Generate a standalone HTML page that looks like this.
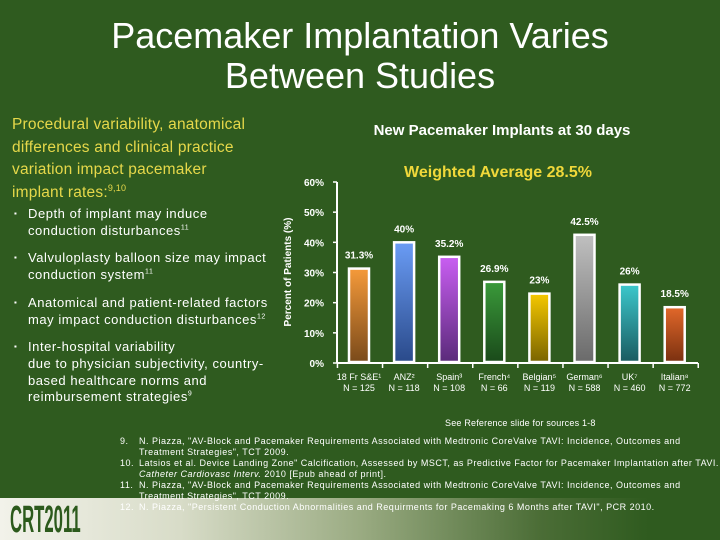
<!DOCTYPE html>
<html><head><meta charset="utf-8"><style>
body{margin:0}
#slide{position:relative;width:720px;height:540px;background:#2f5b1f;overflow:hidden;font-family:"Liberation Sans",sans-serif}
.t{position:absolute}
#title{left:0;width:720px;top:16px;text-align:center;color:#fff;font-size:36px;line-height:40px}
#intro{left:12px;top:114px;color:#e6d84a;font-size:15.5px;line-height:22.5px;width:270px;white-space:nowrap;letter-spacing:0.2px}
#intro sup{font-size:9px;line-height:0}
ul{position:absolute;left:12px;top:206px;margin:0;padding:0;list-style:none;color:#fff;font-size:13px;line-height:16.7px;width:270px;letter-spacing:0.55px;white-space:nowrap}
li{position:relative;padding-left:16px;margin-bottom:11px}
li:before{content:"▪";position:absolute;left:2px;font-size:8px}
li sup{font-size:7px;line-height:0}
#band{position:absolute;left:0;top:498px;width:720px;height:42px;background:linear-gradient(90deg,#f2f2ea 0%,#d8dcc8 25%,#9aab82 50%,#4b6d36 75%,#2f5b1f 90%)}
#crt{left:10px;top:499px;color:#2c5a1c;font-size:38px;font-weight:bold;transform:scaleX(0.44);transform-origin:left;letter-spacing:0px}
#refs{left:120px;top:436px;color:#fff;font-size:9px;line-height:11px;width:600px;letter-spacing:0.5px;white-space:nowrap}
.r{position:relative;padding-left:19px}
.r span{position:absolute;left:0}
</style></head><body>
<div id="slide">
<div class="t" id="title">Pacemaker Implantation Varies<br>Between Studies</div>
<div class="t" id="intro">Procedural variability, anatomical<br>differences and clinical practice<br>variation impact pacemaker<br>implant rates:<sup>9,10</sup></div>
<ul>
<li>Depth of implant may induce<br>conduction disturbances<sup>11</sup></li>
<li>Valvuloplasty balloon size may impact<br>conduction system<sup>11</sup></li>
<li>Anatomical and patient-related factors<br>may impact conduction disturbances<sup>12</sup></li>
<li>Inter-hospital variability<br>due to physician subjectivity, country-<br>based healthcare norms and<br>reimbursement strategies<sup>9</sup></li>
</ul>
<div id="band"></div>
<div class="t" id="crt">CRT2011</div>
<svg id="chart" width="720" height="540" style="position:absolute;left:0;top:0"></svg>
<div class="t" style="left:445px;top:418px;color:#fff;font-size:9px;letter-spacing:0.2px">See Reference slide for sources 1-8</div>
<div class="t" id="refs">
<div class="r"><span>9.</span>N. Piazza, "AV-Block and Pacemaker Requirements Associated with Medtronic CoreValve TAVI: Incidence, Outcomes and<br>Treatment Strategies", TCT 2009.</div>
<div class="r"><span>10.</span>Latsios et al. Device Landing Zone" Calcification, Assessed by MSCT, as Predictive Factor for Pacemaker Implantation after TAVI.<br><i>Catheter Cardiovasc Interv.</i> 2010 [Epub ahead of print].</div>
<div class="r"><span>11.</span>N. Piazza, "AV-Block and Pacemaker Requirements Associated with Medtronic CoreValve TAVI: Incidence, Outcomes and<br>Treatment Strategies", TCT 2009.</div>
<div class="r"><span>12.</span>N. Piazza, "Persistent Conduction Abnormalities and Requirments for Pacemaking 6 Months after TAVI", PCR 2010.</div>
</div>
</div>
<script>
const categories=["18 Fr S&E¹","ANZ²","Spain³","French⁴","Belgian⁵","German⁶","UK⁷","Italian⁸"];
const nLabels=["N = 125","N = 118","N = 108","N = 66","N = 119","N = 588","N = 460","N = 772"];
const values=[31.3,40,35.2,26.9,23,42.5,26,18.5];
const valueLabels=["31.3%","40%","35.2%","26.9%","23%","42.5%","26%","18.5%"];
const yTicks=[0,10,20,30,40,50,60];
const colorsTop=["#f59a3a","#6a9cf5","#c95ef2","#3a9a3a","#f5c800","#c0c0c0","#3cc8cc","#e2682a"];
const colorsBot=["#7a4a1a","#2a4a8a","#5a2a7a","#1a4a1a","#7a6400","#6a6a6a","#1a5a60","#7a3010"];
const NS="http://www.w3.org/2000/svg";
const svg=document.getElementById('chart');
const X0=337,X1=698,Y0=363,Y60=182;
const y=v=>Y0-(v/60)*(Y0-Y60);
const step=45.1,first=359;
const x=i=>first+i*step;
function mk(t,a){const e=document.createElementNS(NS,t);for(const k in a)e.setAttribute(k,a[k]);svg.appendChild(e);return e;}
const defs=mk('defs',{});
let e;
e=mk('text',{x:502,y:135,'text-anchor':'middle',fill:'#fff','font-size':15,'font-weight':'bold','font-family':'Liberation Sans'});e.textContent='New Pacemaker Implants at 30 days';


e=mk('text',{x:498,y:177,'text-anchor':'middle',fill:'#f0d83a','font-size':16,'font-weight':'bold','font-family':'Liberation Sans'});e.textContent='Weighted Average 28.5%';


e=mk('text',{x:0,y:0,transform:'translate(291,272) rotate(-90)','text-anchor':'middle',fill:'#fff','font-size':10,'font-weight':'bold','font-family':'Liberation Sans'});e.textContent='Percent of Patients (%)';


e=mk('line',{x1:X0,x2:X0,y1:Y60,y2:Y0,stroke:'#fff','stroke-width':2});


e=mk('line',{x1:X0,x2:X1,y1:Y0,y2:Y0,stroke:'#fff','stroke-width':2});


yTicks.forEach(t=>{
 e=mk('line',{x1:X0-4,x2:X0,y1:y(t),y2:y(t),stroke:'#fff','stroke-width':1.5});
 
 
 e=mk('text',{x:324,y:y(t)+4,'text-anchor':'end',fill:'#fff','font-size':10,'font-weight':'bold','font-family':'Liberation Sans'});e.textContent=t+'%';
 
 
});
for(let i=0;i<=categories.length;i++){
 e=mk('line',{x1:x(i)-step/2+1,x2:x(i)-step/2+1,y1:Y0,y2:Y0+5,stroke:'#fff','stroke-width':1.5});
 
 
}
values.forEach((v,i)=>{
 const g=document.createElementNS(NS,'linearGradient');g.setAttribute('id','g'+i);g.setAttribute('x1',0);g.setAttribute('y1',0);g.setAttribute('x2',0);g.setAttribute('y2',1);
 g.innerHTML=`<stop offset="0" stop-color="${colorsTop[i]}"/><stop offset="1" stop-color="${colorsBot[i]}"/>`;defs.appendChild(g);
 e=mk('rect',{x:x(i)-10,y:y(v),width:20,height:Y0-y(v)-1,fill:`url(#g${i})`,stroke:'#fff','stroke-width':2.5});
 
 
 e=mk('text',{x:x(i),y:y(v)-10,'text-anchor':'middle',fill:'#fff','font-size':10,'font-weight':'bold','font-family':'Liberation Sans'});e.textContent=valueLabels[i];
 
 
 e=mk('text',{x:x(i),y:380,'text-anchor':'middle',fill:'#fff','font-size':9,'font-family':'Liberation Sans'});e.textContent=categories[i];
 
 
 e=mk('text',{x:x(i),y:391,'text-anchor':'middle',fill:'#fff','font-size':9,'font-family':'Liberation Sans'});e.textContent=nLabels[i];
 
 
});
</script>
</body></html>
